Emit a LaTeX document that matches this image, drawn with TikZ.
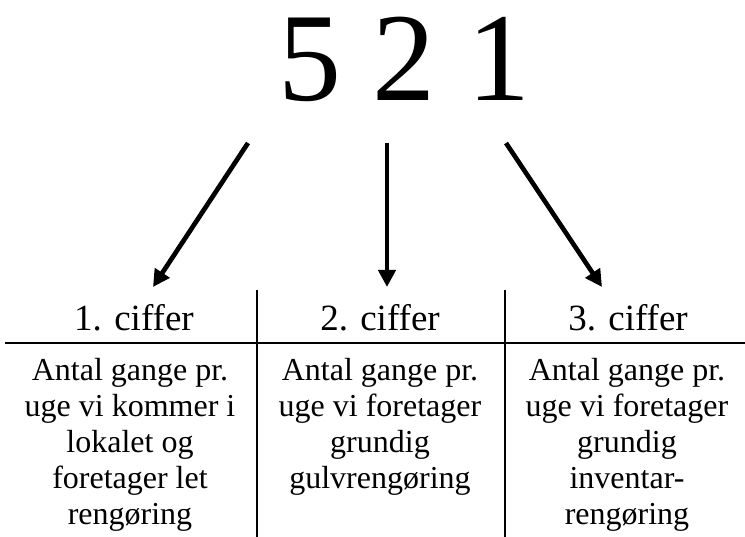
\documentclass[tikz,border=0pt]{standalone}
\usepackage{fontspec}
\setmainfont{Liberation Serif}
\usetikzlibrary{arrows.meta}
\tikzset{
  big/.style={font=\fontsize{126}{126}\selectfont, inner sep=0pt, anchor=base},
  head/.style={font=\fontsize{37}{40}\selectfont, inner sep=0pt, anchor=base},
  body/.style={font=\fontsize{32}{36}\selectfont, inner sep=0pt, anchor=north, align=center},
  arr/.style={line width=4.7pt, -{Triangle[length=17pt,width=17pt]}},
  rule/.style={line width=2pt}
}
\newcommand{\firstln}{\rule{0pt}{25pt}}
\begin{document}
\begin{tikzpicture}[x=1pt,y=-1pt]
\useasboundingbox (0,0) rectangle (745,537);
\node[big] (num) at (404,101) {5 2 1};
% arrows
\coordinate (s1) at (248,143); \coordinate (e1) at (153,287);
\coordinate (s2) at (387,143); \coordinate (e2) at (387,287);
\coordinate (s3) at (506,143); \coordinate (e3) at (602,287);
\draw[arr] (s1) -- (e1);
\draw[arr] (s2) -- (e2);
\draw[arr] (s3) -- (e3);
% table lines
\coordinate (hl) at (5,343); \coordinate (hr) at (745,343);
\coordinate (v1t) at (257,290); \coordinate (v1b) at (257,537);
\coordinate (v2t) at (505,290); \coordinate (v2b) at (505,537);
\draw[rule] (hl) -- (hr);
\draw[rule] (v1t) -- (v1b);
\draw[rule] (v2t) -- (v2b);
% headers
\node[head] (h1) at (134,331) {1. ciffer};
\node[head] (h2) at (380,331) {2. ciffer};
\node[head] (h3) at (628,331) {3. ciffer};
% bodies
\node[body] (b1) at (130,355) {\firstln Antal gange pr.\\uge vi kommer i\\lokalet og\\foretager let\\rengøring};
\node[body] (b2) at (380,355) {\firstln Antal gange pr.\\uge vi foretager\\grundig\\gulvrengøring};
\node[body] (b3) at (627,355) {\firstln Antal gange pr.\\uge vi foretager\\grundig\\inventar-\\rengøring};
\end{tikzpicture}
\end{document}
